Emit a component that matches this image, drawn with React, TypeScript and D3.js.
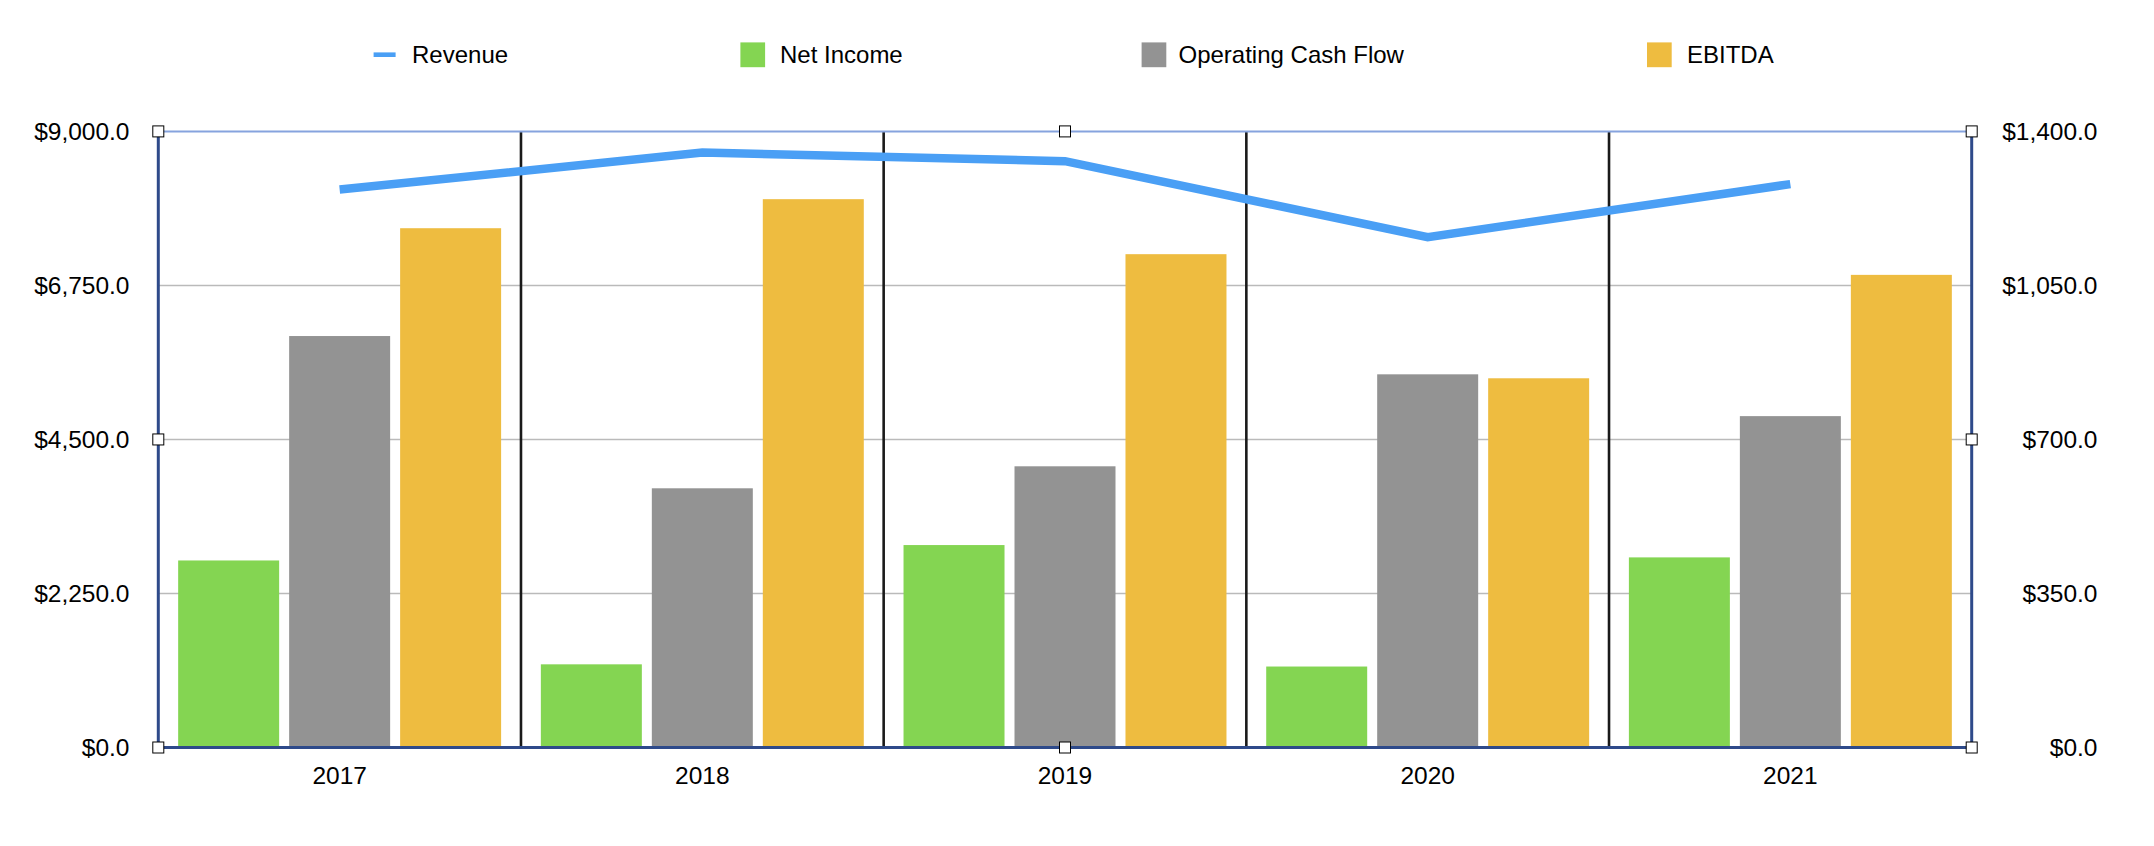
import React from "react";
import * as d3 from "d3";

const years = ["2017", "2018", "2019", "2020", "2021"];
const revenue = [8150, 8690, 8565, 7455, 8230];
const netIncome = [425, 189, 460, 184, 432];
const operatingCashFlow = [935, 589, 639, 848, 753];
const ebitda = [1180, 1246, 1121, 839, 1074];
const leftTicks = [0, 2250, 4500, 6750, 9000];
const rightTicks = [0, 350, 700, 1050, 1400];
const barSeries = ["Net Income", "Operating Cash Flow", "EBITDA"];
const barColors = ["#84D552", "#939393", "#EEBC40"];
const lineColor = "#4A9FF5";

const W = 2154;
const H = 846;
const M = { left: 158.3, right: 1971.7, top: 131.4, bottom: 747.5 };
const FONT = "'Liberation Sans', Arial, Helvetica, sans-serif";

const fmt = (v: number) => "$" + d3.format(",.1f")(v);

export default function App() {
  const x = d3.scaleBand<string>().domain(years).range([M.left, M.right]).padding(0);
  const inner = d3
    .scaleBand<string>()
    .domain(barSeries)
    .range([0, x.bandwidth()])
    .paddingInner(0.09)
    .paddingOuter(0.179);
  const yL = d3.scaleLinear().domain([0, 9000]).range([M.bottom, M.top]);
  const yR = d3.scaleLinear().domain([0, 1400]).range([M.bottom, M.top]);
  const barData = [netIncome, operatingCashFlow, ebitda];

  const line = d3
    .line<number>()
    .x((_, i) => (x(years[i]) as number) + x.bandwidth() / 2)
    .y((d) => yL(d));

  const midX = (M.left + M.right) / 2;
  const handles: [number, number][] = [
    [M.left, M.top],
    [M.left, yL(4500)],
    [M.left, M.bottom],
    [M.right, M.top],
    [M.right, yL(4500)],
    [M.right, M.bottom],
    [midX, M.top],
    [midX, M.bottom],
  ];

  const legend = [
    { name: "Revenue", type: "line", mx: 373.6, tx: 412 },
    { name: "Net Income", type: "bar", color: barColors[0], mx: 740.4, tx: 780 },
    { name: "Operating Cash Flow", type: "bar", color: barColors[1], mx: 1141.6, tx: 1178.5 },
    { name: "EBITDA", type: "bar", color: barColors[2], mx: 1647, tx: 1687 },
  ];

  return (
    <svg
      width={W}
      height={H}
      style={{ position: "absolute", left: 0, top: 0, background: "#fff" }}
      fontFamily={FONT}
    >
      {/* legend */}
      {legend.map((l) => (
        <g key={l.name}>
          {l.type === "line" ? (
            <rect x={l.mx} y={52.4} width={22} height={4.6} fill={lineColor} />
          ) : (
            <rect x={l.mx} y={42.4} width={24.7} height={24.8} fill={l.color} />
          )}
          <text x={l.tx} y={63} fontSize={24} fill="#000">
            {l.name}
          </text>
        </g>
      ))}

      {/* gridlines */}
      {leftTicks.slice(1, 4).map((t) => (
        <line key={t} x1={M.left} x2={M.right} y1={yL(t)} y2={yL(t)} stroke="#BABABA" strokeWidth={1.5} />
      ))}

      {/* bars */}
      {years.map((yr, i) => (
        <g key={yr} transform={`translate(${x(yr)},0)`}>
          {barSeries.map((s, j) => (
            <rect
              key={s}
              x={inner(s)}
              y={yR(barData[j][i])}
              width={inner.bandwidth()}
              height={M.bottom - yR(barData[j][i])}
              fill={barColors[j]}
            />
          ))}
        </g>
      ))}

      {/* category separators */}
      {years.slice(1).map((yr) => (
        <line
          key={yr}
          x1={x(yr)}
          x2={x(yr)}
          y1={M.top}
          y2={M.bottom}
          stroke="#1A1A1A"
          strokeWidth={2.6}
        />
      ))}

      {/* top border */}
      <line x1={M.left} x2={M.right} y1={M.top} y2={M.top} stroke="#86A3DE" strokeWidth={2} />

      {/* revenue line */}
      <path d={line(revenue) || ""} fill="none" stroke={lineColor} strokeWidth={8.5} strokeLinejoin="miter" />

      {/* axes */}
      <line x1={M.left} x2={M.left} y1={M.top} y2={M.bottom + 1.5} stroke="#2E4A8A" strokeWidth={3} />
      <line x1={M.right} x2={M.right} y1={M.top} y2={M.bottom + 1.5} stroke="#2E4A8A" strokeWidth={3} />
      <line x1={M.left} x2={M.right} y1={M.bottom} y2={M.bottom} stroke="#2E4A8A" strokeWidth={3} />

      {/* left ticks */}
      {leftTicks.map((t) => (
        <text key={t} x={129.5} y={yL(t)} dy="0.36em" textAnchor="end" fontSize={24.5} fill="#000">
          {fmt(t)}
        </text>
      ))}
      {/* right ticks */}
      {rightTicks.map((t) => (
        <text key={t} x={2097.5} y={yR(t)} dy="0.36em" textAnchor="end" fontSize={24.5} fill="#000">
          {fmt(t)}
        </text>
      ))}
      {/* x labels */}
      {years.map((yr) => (
        <text
          key={yr}
          x={(x(yr) as number) + x.bandwidth() / 2}
          y={784}
          textAnchor="middle"
          fontSize={24.5}
          fill="#000"
        >
          {yr}
        </text>
      ))}

      {/* selection handles */}
      {handles.map(([hx, hy], i) => (
        <rect key={i} x={hx - 5.5} y={hy - 5.5} width={11} height={11} fill="#fff" stroke="#000" strokeWidth={1} />
      ))}
    </svg>
  );
}
